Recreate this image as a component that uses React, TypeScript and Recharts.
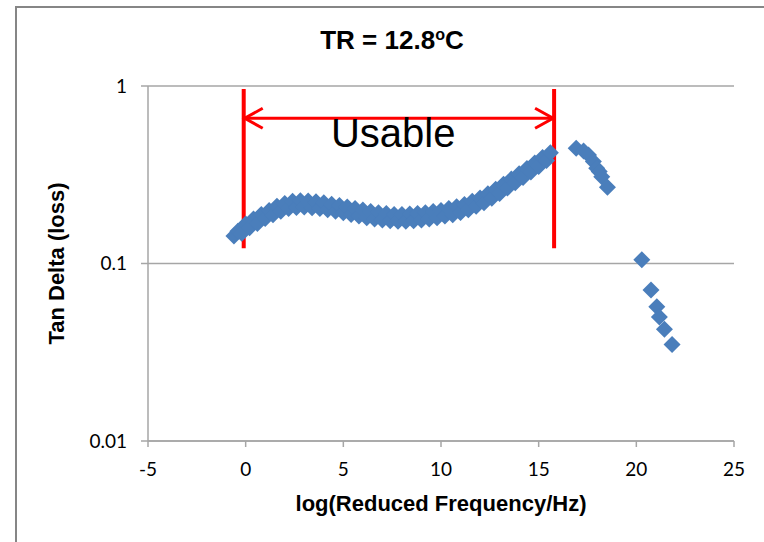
import React from "react";
import { ScatterChart, Scatter, XAxis, YAxis, CartesianGrid, ReferenceLine, ReferenceDot } from "recharts";

// log(reduced frequency / Hz) and tan delta
const logFreq = [
  -0.6, -0.4, -0.2, 0, 0.2, 0.4, 0.6, 0.8, 1.0, 1.2, 1.4, 1.6, 1.8, 2.0, 2.2, 2.4, 2.6, 2.8, 3.0, 3.2,
  3.4, 3.6, 3.8, 4.0, 4.2, 4.4, 4.6, 4.8, 5.0, 5.2, 5.4, 5.6, 5.8, 6.0, 6.2, 6.4, 6.6, 6.8, 7.0, 7.2,
  7.4, 7.6, 7.8, 8.0, 8.2, 8.4, 8.6, 8.8, 9.0, 9.2, 9.4, 9.6, 9.8, 10.0, 10.2, 10.4, 10.6, 10.8, 11.0, 11.2,
  11.4, 11.6, 11.8, 12.0, 12.2, 12.4, 12.6, 12.8, 13.0, 13.2, 13.4, 13.6, 13.8, 14.0, 14.2, 14.4, 14.6, 14.8, 15.0, 15.2,
  15.4, 15.6,
  16.92, 17.3, 17.55, 17.8, 17.97, 18.1, 18.23, 18.52,
  20.28, 20.75, 21.05, 21.18, 21.44, 21.83,
];
const tanDelta = [
  0.143, 0.152, 0.148, 0.167, 0.159, 0.178, 0.168, 0.189, 0.179, 0.199, 0.188, 0.21, 0.197, 0.218, 0.204, 0.224, 0.207, 0.226, 0.208, 0.225,
  0.206, 0.223, 0.204, 0.22, 0.201, 0.216, 0.197, 0.212, 0.193, 0.208, 0.189, 0.204, 0.185, 0.2, 0.181, 0.196, 0.178, 0.193, 0.176, 0.191,
  0.174, 0.189, 0.173, 0.189, 0.173, 0.19, 0.174, 0.191, 0.176, 0.193, 0.178, 0.196, 0.181, 0.199, 0.185, 0.204, 0.188, 0.209, 0.194, 0.215,
  0.201, 0.224, 0.21, 0.234, 0.22, 0.247, 0.233, 0.262, 0.248, 0.28, 0.266, 0.299, 0.285, 0.32, 0.305, 0.343, 0.328, 0.368, 0.352, 0.395,
  0.38, 0.42,
  0.446, 0.43, 0.409, 0.375, 0.344, 0.33, 0.308, 0.269,
  0.105, 0.071, 0.057, 0.05, 0.0426, 0.035,
];
const xTicks = [-5, 0, 5, 10, 15, 20, 25];
const yTicks = [0.01, 0.1, 1];

// usable window
const usableStart = -0.1;
const usableEnd = 15.79;
const usableBottom = 0.122;
const usableTop = 0.962;
const arrowLevel = 0.658;

const points = logFreq.map((x, i) => ({ x, y: tanDelta[i] }));

const BLUE = "#4a7ebb";
const GRID = "#a6a6a6";
const RED = "#ff0000";

function Diamond(props: any) {
  const { cx, cy } = props;
  if (cx == null || cy == null) return null;
  const r = 8.5;
  return <polygon points={`${cx},${cy - r} ${cx + r},${cy} ${cx},${cy + r} ${cx - r},${cy}`} fill={BLUE} />;
}

function Arrow(props: any) {
  const { x1, y1, x2, y2 } = props;
  if (x1 == null) return null;
  return (
    <g>
      <line x1={x1} y1={y1} x2={x2} y2={y2} stroke={RED} strokeWidth={3} />
      <polyline points={`${x1 + 19},${y1 - 10} ${x1 + 1},${y1} ${x1 + 19},${y1 + 10}`} fill="none" stroke={RED} strokeWidth={3} />
      <polyline points={`${x2 - 19},${y2 - 10} ${x2 - 1},${y2} ${x2 - 19},${y2 + 10}`} fill="none" stroke={RED} strokeWidth={3} />
    </g>
  );
}

function UsableText(props: any) {
  const { cx, cy } = props;
  if (cx == null) return null;
  return (
    <text x={cx} y={cy} textAnchor="middle" fontFamily="Liberation Sans, Arial, sans-serif" fontSize={40} fill="#000">
      Usable
    </text>
  );
}

const tickStyle = { fontSize: 19, fontFamily: "Lato, Carlito, sans-serif", fill: "#000" };

export default function App() {
  return (
    <div style={{ position: "absolute", left: 0, top: 0, width: 764, height: 542, overflow: "hidden", background: "#fff" }}>
      <div style={{ position: "absolute", left: 15, top: 6, width: 800, height: 600, border: "2px solid #868686" }} />
      <div
        style={{
          position: "absolute",
          left: 0,
          top: 27,
          width: 784,
          textAlign: "center",
          fontFamily: "Liberation Sans, Arial, sans-serif",
          fontWeight: "bold",
          fontSize: 26,
          lineHeight: "26px",
        }}
      >
        TR = 12.8<span style={{ fontSize: "0.62em", position: "relative", top: "-0.55em" }}>o</span>C
      </div>
      <div style={{ position: "absolute", left: 0, top: 0 }}>
        <ScatterChart width={764} height={542} margin={{ top: 86, right: 30, bottom: 71, left: 8 }}>
          <CartesianGrid vertical={false} stroke={GRID} strokeWidth={1.5} />
          <XAxis
            type="number"
            dataKey="x"
            domain={[-5, 25]}
            ticks={xTicks}
            height={30}
            stroke={GRID}
            strokeWidth={1.5}
            tickSize={6}
            tickMargin={16}
            tick={tickStyle}
            label={{
              value: "log(Reduced Frequency/Hz)",
              position: "bottom",
              offset: 24,
              style: { fontSize: 22, fontWeight: "bold", fontFamily: "Liberation Sans, Arial, sans-serif", fill: "#000" },
            }}
          />
          <YAxis
            type="number"
            dataKey="y"
            scale="log"
            domain={[0.01, 1]}
            ticks={yTicks}
            allowDataOverflow
            width={140}
            stroke={GRID}
            strokeWidth={1.5}
            tickSize={7}
            tickMargin={14}
            tick={tickStyle}
            label={{
              value: "Tan Delta (loss)",
              angle: -90,
              position: "insideLeft",
              offset: 48,
              style: { textAnchor: "middle", fontSize: 22, fontWeight: "bold", fontFamily: "Liberation Sans, Arial, sans-serif", fill: "#000" },
            }}
          />
          <Scatter data={points} shape={<Diamond />} isAnimationActive={false} />
          <ReferenceLine segment={[{ x: usableStart, y: usableBottom }, { x: usableStart, y: usableTop }]} stroke={RED} strokeWidth={4} />
          <ReferenceLine segment={[{ x: usableEnd, y: usableBottom }, { x: usableEnd, y: usableTop }]} stroke={RED} strokeWidth={4} />
          <ReferenceLine segment={[{ x: usableStart, y: arrowLevel }, { x: usableEnd, y: arrowLevel }]} shape={(p: any) => <Arrow {...p} />} />
          <ReferenceDot x={7.55} y={0.455} r={0} shape={(p: any) => <UsableText {...p} />} />
        </ScatterChart>
      </div>
    </div>
  );
}
